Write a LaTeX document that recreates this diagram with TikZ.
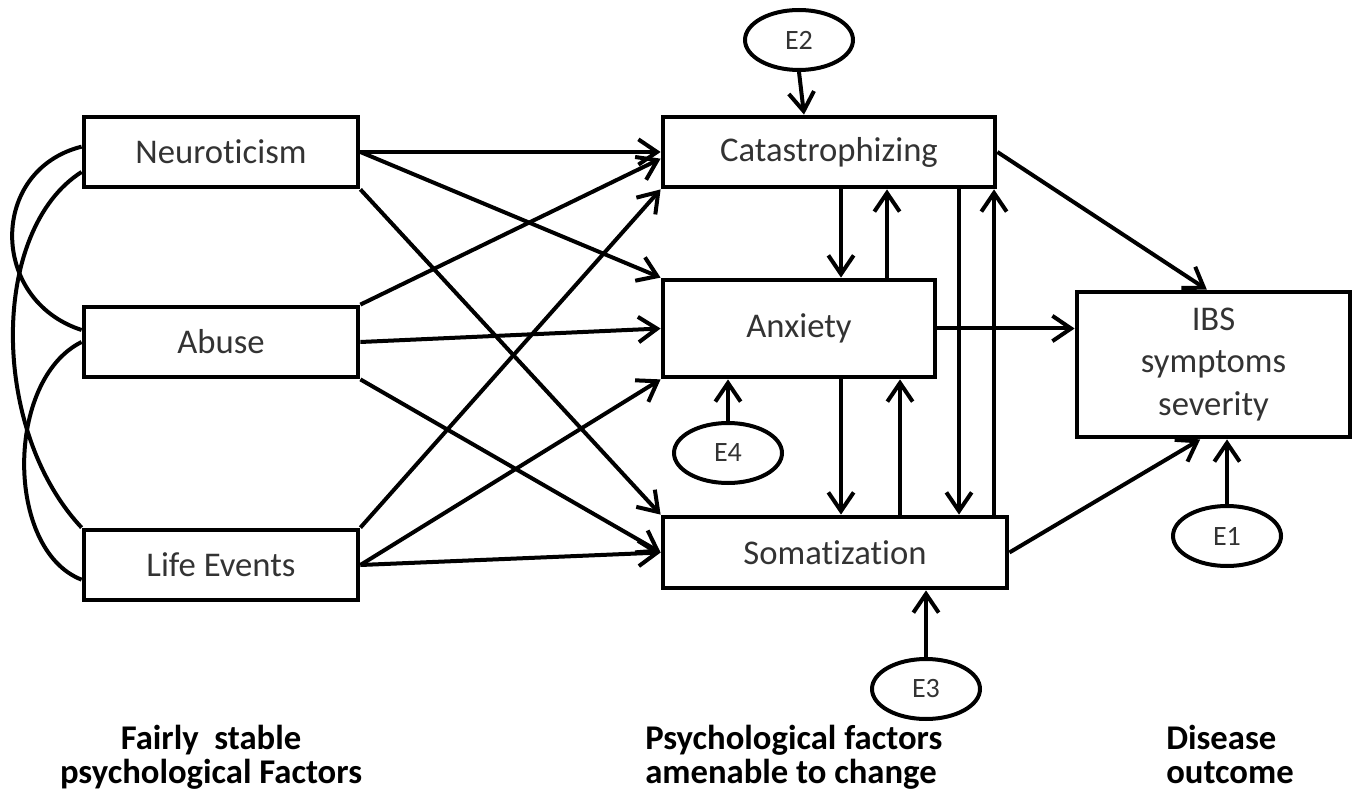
\documentclass[tikz,border=0pt]{standalone}
\usepackage{fontspec}
\setmainfont{Carlito}[Ligatures=NoCommon]
\usepackage{xcolor}
\usetikzlibrary{arrows.meta,shapes.geometric,calc}
\definecolor{txtgray}{HTML}{333333}

\begin{document}
\begin{tikzpicture}[x=0.75pt, y=-0.75pt, >={Straight Barb[length=14pt,width=19pt]},
  box/.style={draw, rectangle, line width=3.6pt, inner sep=0pt, align=center,
    text=txtgray, font=\fontsize{26}{32}\selectfont},
  errnode/.style={draw, ellipse, line width=3pt, inner sep=0pt,
    minimum width=81pt, minimum height=45pt, text=txtgray,
    font=\fontsize{21}{24}\selectfont},
  arw/.style={->, line width=3pt},
  cov/.style={line width=3pt},
  grp/.style={inner sep=0pt, font=\bfseries\fontsize{26}{25.5}\selectfont}]
  \useasboundingbox (0,0) rectangle (1356,798);
  % ---- fairly stable factors
  \node[box, minimum width=205.5pt, minimum height=52.5pt] (neuro) at (221,152) {Neuroticism};
  \node[box, minimum width=205.5pt, minimum height=52.5pt] (abuse) at (221,342) {Abuse};
  \node[box, minimum width=205.5pt, minimum height=52.5pt] (life) at (221,565) {Life Events};
  % ---- factors amenable to change
  \node[box, minimum width=249pt, minimum height=52.5pt] (cat) at (829,152) {Catastrophizing};
  \node[box, minimum width=204pt, minimum height=72.75pt] (anx) at (799,328.5) {Anxiety};
  \node[box, minimum width=258pt, minimum height=53.25pt] (som) at (835,552.5) {Somatization};
  % ---- outcome
  \node[box, minimum width=204.75pt, minimum height=108.75pt] (ibs) at (1213.5,364.5) {IBS\\symptoms\\severity};
  % ---- error terms
  \node[errnode] (e2) at (799,40) {E2};
  \node[errnode] (e4) at (728,453) {E4};
  \node[errnode] (e1) at (1227,536) {E1};
  \node[errnode] (e3) at (926,689) {E3};
  % ---- column captions (phantoms keep the three boxes equally tall)
  \node[grp, align=center] (capa) at (211,757) {\vphantom{l}Fairly\ \ stable\\psychological Factors\vphantom{g}};
  \node[grp, align=left, anchor=west] (capb) at (645,757) {\vphantom{l}Psychological factors\\amenable to change\vphantom{g}};
  \node[grp, align=left, anchor=west] (capc) at (1166,757) {\vphantom{l}Disease\\outcome\vphantom{g}};
  % ---- correlations on the left
  \draw[cov] ([yshift=4pt]neuro.west) .. controls (-11,170) and (-11,300) .. ([yshift=9pt]abuse.west);
  \draw[cov] ([yshift=-15pt]neuro.west) .. controls (-10,230) and (-10,430) .. (life.north west);
  \draw[cov] (abuse.west) .. controls (5,380) and (5,550) .. ([yshift=-11pt]life.west);
  % ---- stable factors -> changeable factors
  \draw[arw] (neuro.east) -- (cat.west);
  \draw[arw] (neuro.east) -- (anx.north west);
  \draw[arw] (neuro.south east) -- (som.north west);
  \draw[arw] (abuse.north east) -- ([yshift=-5pt]cat.west);
  \draw[arw] (abuse.east) -- (anx.west);
  \draw[arw] (abuse.south east) -- (som.west);
  \draw[arw] (life.north east) -- (cat.south west);
  \draw[arw] (life.east) -- (anx.south west);
  \draw[arw] (life.east) -- (som.west);
  % ---- paths among the changeable factors
  \foreach \n/\x in {ca/841, ac/887, as/841, sa/900, cs/959, sc/994} {
    \coordinate (x\n) at (\x,0);
  }
  \draw[arw] (xca |- cat.south) -- (xca |- anx.north);
  \draw[arw] (xac |- anx.north) -- (xac |- cat.south);
  \draw[arw] (xas |- anx.south) -- (xas |- som.north);
  \draw[arw] (xsa |- som.north) -- (xsa |- anx.south);
  \draw[arw] (xcs |- cat.south) -- (xcs |- som.north);
  \draw[arw] (xsc |- som.north) -- (xsc |- cat.south);
  % ---- into the outcome
  \draw[arw] (cat.east) -- ([xshift=-5pt]ibs.north);
  \draw[arw] (anx.east) -- (anx.east -| ibs.west);
  \draw[arw] (som.east) -- ([xshift=-10pt]ibs.south);
  % ---- error terms
  \draw[arw] (e2.south) -- ($(e2.south |- cat.north)+(5,0)$);
  \draw[arw] (e4.north) -- (e4.north |- anx.south);
  \draw[arw] (e1.north) -- (e1.north |- ibs.south);
  \draw[arw] (e3.north) -- (e3.north |- som.south);
\end{tikzpicture}
\end{document}
